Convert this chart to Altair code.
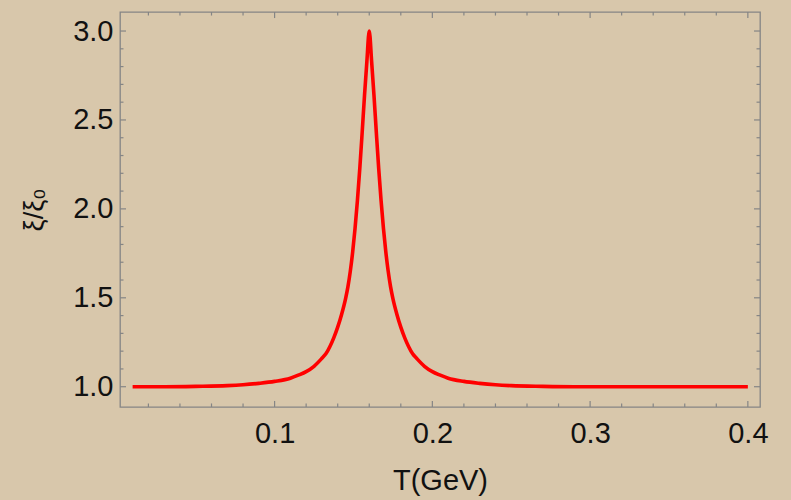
import altair as alt
import pandas as pd

# Curve
T_vals = [0.010, 0.030, 0.050, 0.070, 0.080, 0.090, 0.100, 0.110, 0.115, 0.120,
          0.125, 0.130, 0.1325, 0.135, 0.1375, 0.140, 0.1425, 0.145, 0.1465, 0.148,
          0.1495, 0.151, 0.1525, 0.154, 0.1555, 0.157, 0.1585, 0.160,
          0.1615, 0.163, 0.1645, 0.166, 0.1675, 0.169, 0.1705, 0.172, 0.1735, 0.175,
          0.1775, 0.180, 0.1825, 0.185, 0.1875, 0.190, 0.195, 0.200, 0.205, 0.210,
          0.220, 0.230, 0.240, 0.250, 0.270, 0.290, 0.400]
xi_vals = [1.000, 1.000, 1.002, 1.006, 1.011, 1.019, 1.030, 1.048, 1.065, 1.085,
           1.115, 1.160, 1.185, 1.225, 1.275, 1.335, 1.408, 1.496, 1.563, 1.650,
           1.758, 1.890, 2.046, 2.226, 2.428, 2.638, 2.830, 3.000,
           2.830, 2.638, 2.428, 2.226, 2.046, 1.890, 1.758, 1.650, 1.563, 1.496,
           1.408, 1.335, 1.275, 1.225, 1.185, 1.160, 1.115, 1.085, 1.065, 1.048,
           1.030, 1.019, 1.011, 1.006, 1.002, 1.000, 1.000]

x_major = [0.1, 0.2, 0.3, 0.4]
x_minor = [0.02, 0.04, 0.06, 0.08, 0.12, 0.14, 0.16, 0.18, 0.22, 0.24, 0.26,
           0.28, 0.32, 0.34, 0.36, 0.38]
y_major = [1.0, 1.5, 2.0, 2.5, 3.0]
y_minor = [1.1, 1.2, 1.3, 1.4, 1.6, 1.7, 1.8, 1.9, 2.1, 2.2, 2.3, 2.4,
           2.6, 2.7, 2.8, 2.9]

W, H = 640, 395
FRAME = "#858585"
FONT = "Liberation Sans"
INK = "#111111"

xdom = [0.002, 0.4077]
ydom = [0.886, 3.107]

# tick lengths expressed in data units (about 6 px major, 3.5 px minor)
X_MAJ, X_MIN = 0.0038, 0.0022
Y_MAJ, Y_MIN = 0.034, 0.020

xs = alt.Scale(domain=xdom, nice=False, zero=False)
ys = alt.Scale(domain=ydom, nice=False, zero=False)

x_axis = alt.Axis(
    title="T(GeV)", values=x_major, format=".1f", ticks=False, domain=False, grid=False,
    labelFontSize=29, labelColor=INK, labelPadding=12, labelFont=FONT,
    titleFontSize=29, titleFont=FONT, titleFontWeight="normal", titleColor=INK,
    titleBaseline="middle", titleY=73)
y_axis = alt.Axis(
    title="ξ/ξ₀", values=y_major, format=".1f", ticks=False, domain=False, grid=False,
    labelFontSize=29, labelColor=INK, labelPadding=7, labelFont=FONT,
    titleFontSize=27, titleFont=FONT, titleFontWeight="normal", titleColor=INK,
    titleBaseline="middle", titleX=-86)

curve = pd.DataFrame({"T": T_vals, "xi": xi_vals})

# frame ticks (inward) as short two-point segments, built from the tick arrays
rows = []
seg = 0
for vals, L in ((x_major, Y_MAJ), (x_minor, Y_MIN)):
    for v in vals:
        for y0, y1 in ((ydom[0], ydom[0] + L), (ydom[1], ydom[1] - L)):
            rows.append({"seg": seg, "k": 0, "T": v, "xi": y0})
            rows.append({"seg": seg, "k": 1, "T": v, "xi": y1})
            seg += 1
for vals, L in ((y_major, X_MAJ), (y_minor, X_MIN)):
    for v in vals:
        for x0, x1 in ((xdom[0], xdom[0] + L), (xdom[1], xdom[1] - L)):
            rows.append({"seg": seg, "k": 0, "T": x0, "xi": v})
            rows.append({"seg": seg, "k": 1, "T": x1, "xi": v})
            seg += 1
ticks_df = pd.DataFrame(rows)

ticks = alt.Chart(ticks_df).mark_line(color=FRAME, strokeWidth=1.2, strokeCap="butt").encode(
    x=alt.X("T:Q", scale=xs, axis=x_axis),
    y=alt.Y("xi:Q", scale=ys, axis=y_axis),
    detail="seg:N",
    order="k:Q",
)

line = alt.Chart(curve).mark_line(color="#ff0000", strokeWidth=3.6, interpolate="monotone").encode(
    x=alt.X("T:Q", scale=xs, axis=x_axis),
    y=alt.Y("xi:Q", scale=ys, axis=y_axis),
)

chart = alt.layer(line, ticks).properties(
    width=W, height=H,
    autosize=alt.AutoSizeParams(type="none"),
    padding={"left": 120, "top": 12, "right": 31, "bottom": 93},
    background="#d8c7ab",
).configure_view(stroke=FRAME, strokeWidth=1.3)

chart.save("out.html", embed_options={"renderer": "svg", "actions": False})
